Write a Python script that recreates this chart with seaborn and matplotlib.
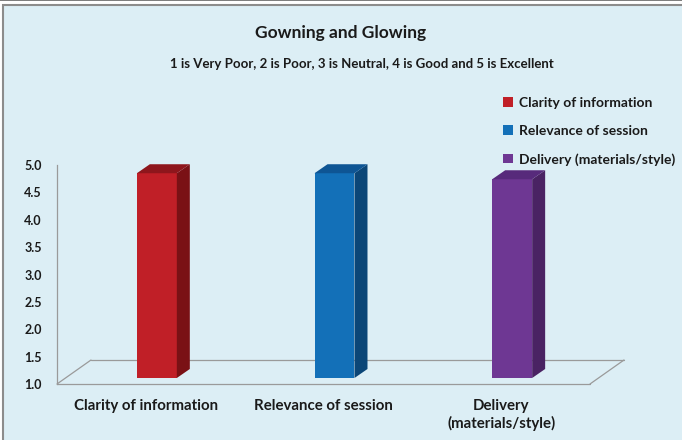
import numpy as np
import pandas as pd
import matplotlib
matplotlib.use("Agg")
import matplotlib.pyplot as plt
from matplotlib.patches import Polygon, Patch, Rectangle
import seaborn as sns

# data
categories = ["Clarity of information", "Relevance of session", "Delivery (materials/style)"]
tick_labels = ["Clarity of information", "Relevance of session", "Delivery\n(materials/style)"]
scores = [4.74, 4.74, 4.63]
front_colors = ["#C01F27", "#1370B8", "#6E3793"]
side_colors = ["#7A1115", "#0B4677", "#4A2363"]
top_colors = ["#8E161C", "#0E5594", "#572A7B"]
y_ticks = [1.0, 1.5, 2.0, 2.5, 3.0, 3.5, 4.0, 4.5, 5.0]

BG = "#DCEEF5"
W, H = 682, 440

sns.set_theme(style="white")
plt.rcParams["font.family"] = ["Lato", "DejaVu Sans"]

fig = plt.figure(figsize=(W / 100, H / 100), dpi=100)
fig.patch.set_facecolor("white")
# chart frame
fig.patches.append(Rectangle((3 / W, -0.05), 1.1, (H - 5) / H + 0.05, transform=fig.transFigure,
                             facecolor=BG, edgecolor="#8C8C8C", lw=1.5, zorder=-2))
fig.patches.append(Rectangle((0, (H - 1.5) / H), 1, 1.5 / H, transform=fig.transFigure,
                             facecolor="#7F7F7F", edgecolor="none", zorder=-2))

# front plane of the 3D box: x 57..590 px, y value 1 at 384 px, 5 at 165 px
ax = fig.add_axes([57 / W, (H - 384) / H, 533 / W, 219 / H])
ax.set_facecolor("none")
ax.set_zorder(1)

df = pd.DataFrame({"category": categories, "score": scores})
sns.barplot(data=df, x="category", y="score", hue="category", palette=front_colors,
            width=0.225, legend=False, ax=ax, saturation=1, zorder=3)
ax.set_xlim(-0.5, 2.5)
ax.set_ylim(1, 5)


def shift(x, y, dx, dy):
    # move a data point by a pixel offset
    px, py = ax.transData.transform((x, y))
    return ax.transData.inverted().transform((px + dx, py + dy))


# bars sit part-way into the depth of the floor
bar_dx, bar_dy = 11, 6
depth_dx, depth_dy = 13, 9
for i, bar in enumerate(list(ax.patches)):
    x0 = bar.get_x()
    w = bar.get_width()
    val = bar.get_height()
    nx, ny = shift(x0, 1, bar_dx, bar_dy)
    tx, ty = shift(x0, val, bar_dx, bar_dy)
    bar.set_x(nx)
    bar.set_y(ny)
    bar.set_height(ty - ny)
    bar.set_edgecolor("none")
    bar.set_clip_on(False)
    x1 = nx + w
    # side face
    p1 = shift(x1, ny, depth_dx, depth_dy)
    p2 = shift(x1, ty, depth_dx, depth_dy)
    ax.add_patch(Polygon([(x1, ny), p1, p2, (x1, ty)], closed=True,
                         facecolor=side_colors[i], edgecolor="none", zorder=3, clip_on=False))
    # top face
    q1 = shift(nx, ty, depth_dx, depth_dy)
    ax.add_patch(Polygon([(nx, ty), (x1, ty), p2, q1], closed=True,
                         facecolor=top_colors[i], edgecolor="none", zorder=3, clip_on=False))

# floor of the 3D box
floor_dx, floor_dy = 34, 24
bl = shift(-0.5, 1, floor_dx, floor_dy)
br = shift(2.5, 1, floor_dx, floor_dy)
floor_kw = dict(color="#9A9A9A", lw=0.9, zorder=2, clip_on=False)
ax.plot([-0.5, 2.5], [1, 1], **floor_kw)
ax.plot([-0.5, bl[0]], [1, bl[1]], **floor_kw)
ax.plot([2.5, br[0]], [1, br[1]], **floor_kw)
ax.plot([bl[0], br[0]], [bl[1], br[1]], **floor_kw)

for side in ["top", "right", "bottom"]:
    ax.spines[side].set_visible(False)
ax.spines["left"].set_color("#9A9A9A")
ax.spines["left"].set_linewidth(0.9)

ax.set_yticks(y_ticks)
ax.set_yticklabels([f"{t:.1f}" for t in y_ticks], fontsize=9, fontweight="bold", color="#1A1A1A")
ax.set_xticks(range(len(tick_labels)))
ax.set_xticklabels(tick_labels, fontsize=10.8, fontweight="bold", color="#1A1A1A", linespacing=1.25)
ax.tick_params(axis="y", length=0, pad=11)
ax.tick_params(axis="x", length=0, pad=11)
ax.set_xlabel("")
ax.set_ylabel("")
ax.grid(False)

fig.text(341 / W, 1 - 33 / H, "Gowning and Glowing", ha="center", va="center",
         fontsize=12.5, fontweight="bold", color="#1A1A1A")
fig.text(362 / W, 1 - 64 / H, "1 is Very Poor, 2 is Poor, 3 is Neutral, 4 is Good and 5 is Excellent",
         ha="center", va="center", fontsize=9.5, fontweight="bold", color="#1A1A1A")

handles = [Patch(facecolor=c, edgecolor="none") for c in front_colors]
fig.legend(handles, categories, loc="upper left", bbox_to_anchor=(503 / W, 1 - 97 / H),
           frameon=False, handlelength=0.7, handleheight=0.7, handletextpad=0.45,
           labelspacing=1.15, borderaxespad=0, borderpad=0,
           prop={"size": 10, "weight": "bold"}, labelcolor="#1A1A1A")

fig.savefig("out.png", dpi=100, facecolor=fig.get_facecolor())
